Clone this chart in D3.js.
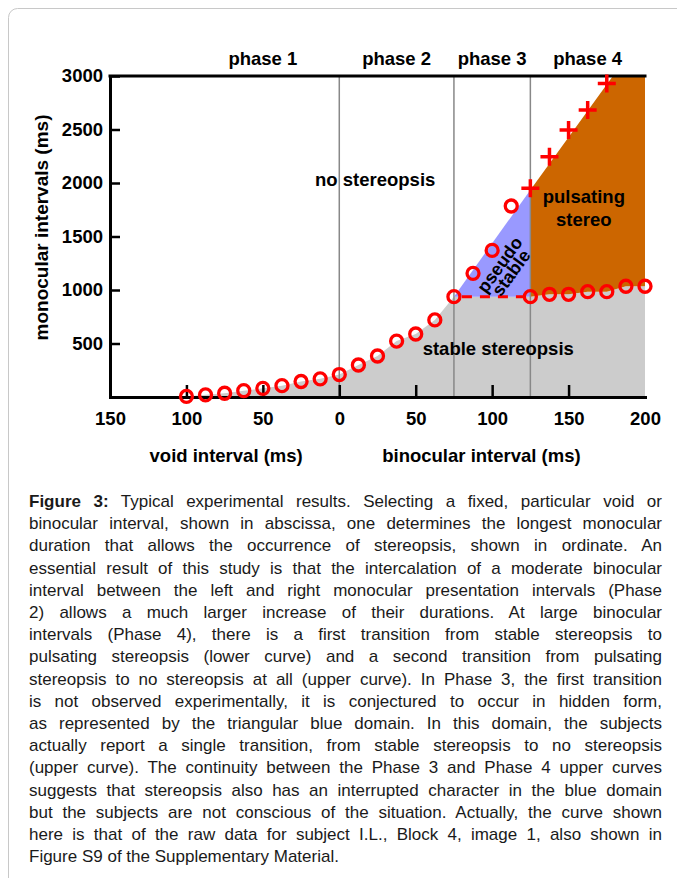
<!DOCTYPE html>
<html>
<head>
<meta charset="utf-8">
<script src="https://cdn.jsdelivr.net/npm/d3@7"></script>
<style>
  body { margin: 0; background: #fff; overflow: hidden; }
  svg text { font-family: "Liberation Sans", Arial, Helvetica, sans-serif; }
</style>
</head>
<body>
<svg id="fig" width="677" height="878"></svg>
<script>
// lower curve (void interval shown as negative x), circles
const lowerX = [-100, -87.5, -75, -62.5, -50, -37.5, -25, -12.5, 0, 12.5, 25, 37.5, 50, 62.5, 75,
  125, 137.5, 150, 162.5, 175, 187.5, 200];
const lowerY = [5, 20, 35, 59, 81, 106, 145, 170, 210, 299, 383, 523, 589, 720, 938,
  938, 960, 960, 984, 984, 1035, 1035];
// upper curve, phase 3 circles and phase 4 crosses
const upperCircleX = [87.5, 100, 112.5];
const upperCircleY = [1156, 1370, 1785];
const upperPlusX = [125, 137.5, 150, 162.5, 175];
const upperPlusY = [1950, 2246, 2495, 2682, 2931];
// fitted upper boundary of the blue / orange domains
const edgeX = [75, 125, 179];
const edgeY = [938, 1935, 3000];
const phaseBounds = [0, 75, 125];
const phaseNames = ['phase 1', 'phase 2', 'phase 3', 'phase 4'];
const phaseCenters = [-50, 37.5, 100, 162.5];
const xTicks = [-150, -100, -50, 0, 50, 100, 150, 200];
const yTicks = [500, 1000, 1500, 2000, 2500, 3000];

const captionLines = [
  'Typical experimental results. Selecting a fixed, particular void or',
  'binocular interval, shown in abscissa, one determines the longest monocular',
  'duration that allows the occurrence of stereopsis, shown in ordinate. An',
  'essential result of this study is that the intercalation of a moderate binocular',
  'interval between the left and right monocular presentation intervals (Phase',
  '2) allows a much larger increase of their durations. At large binocular',
  'intervals (Phase 4), there is a first transition from stable stereopsis to',
  'pulsating stereopsis (lower curve) and a second transition from pulsating',
  'stereopsis to no stereopsis at all (upper curve). In Phase 3, the first transition',
  'is not observed experimentally, it is conjectured to occur in hidden form,',
  'as represented by the triangular blue domain. In this domain, the subjects',
  'actually report a single transition, from stable stereopsis to no stereopsis',
  '(upper curve). The continuity between the Phase 3 and Phase 4 upper curves',
  'suggests that stereopsis also has an interrupted character in the blue domain',
  'but the subjects are not conscious of the situation. Actually, the curve shown',
  'here is that of the raw data for subject I.L., Block 4, image 1, also shown in',
  'Figure S9 of the Supplementary Material.'
];

const svg = d3.select('#fig');

// card border
svg.append('rect')
  .attr('x', 8.5).attr('y', 8.5)
  .attr('width', 720).attr('height', 900)
  .attr('rx', 9)
  .attr('fill', 'none')
  .attr('stroke', '#c8c8c8');

const x = d3.scaleLinear().domain([-150, 200]).range([110, 645]);
const y = d3.scaleLinear().domain([0, 3000]).range([397, 76]);

const lower = lowerX.map((d, i) => [d, lowerY[i]]);
const phase4Lower = lower.filter((d) => d[0] >= 125);

// stable stereopsis (gray)
svg.append('path')
  .datum(lower)
  .attr('fill', '#cccccc')
  .attr('d', d3.area().x((d) => x(d[0])).y0(y(0)).y1((d) => y(d[1])));

const poly = d3.line().x((d) => x(d[0])).y((d) => y(d[1]));

// pseudo stable (blue)
svg.append('path')
  .datum([[edgeX[0], edgeY[0]], [edgeX[1], edgeY[1]], [edgeX[1], edgeY[0]]])
  .attr('fill', '#9999ff')
  .attr('d', (d) => poly(d) + 'Z');

// pulsating stereo (orange)
const orange = [[edgeX[1], edgeY[1]], [edgeX[2], edgeY[2]], [200, 3000]]
  .concat(phase4Lower.slice().reverse());
svg.append('path')
  .datum(orange)
  .attr('fill', '#cc6600')
  .attr('d', (d) => poly(d) + 'Z');

// phase boundaries
svg.selectAll('.phase-line')
  .data(phaseBounds)
  .enter()
  .append('line')
  .attr('class', 'phase-line')
  .attr('x1', (d) => x(d)).attr('x2', (d) => x(d))
  .attr('y1', y(3000)).attr('y2', y(0))
  .attr('stroke', '#888')
  .attr('stroke-width', 1.5);

// axes
const yAxis = svg.append('g')
  .attr('transform', `translate(${x(-150)},0)`)
  .call(d3.axisLeft(y).tickValues(yTicks).tickSize(-10).tickSizeOuter(0).tickPadding(7)
    .tickFormat(d3.format('d')));

const xAxis = svg.append('g')
  .attr('transform', `translate(0,${y(0)})`)
  .call(d3.axisBottom(x).tickValues(xTicks).tickSize(-12).tickSizeOuter(0).tickPadding(15)
    .tickFormat((d) => Math.abs(d)));

xAxis.selectAll('.tick')
  .filter((d) => d === -150 || d === 200)
  .select('line')
  .remove();

[yAxis, xAxis].forEach((g) => {
  g.select('.domain').attr('stroke', '#000').attr('stroke-width', 3).attr('stroke-linecap', 'square');
  g.selectAll('.tick line').attr('stroke', '#000').attr('stroke-width', 2.5);
  g.selectAll('.tick text')
    .attr('fill', '#000')
    .style('font-size', '18.5px')
    .style('font-weight', 'bold');
});

// top frame line
svg.append('line')
  .attr('x1', x(-150)).attr('x2', x(200))
  .attr('y1', y(3000)).attr('y2', y(3000))
  .attr('stroke', '#000')
  .attr('stroke-width', 3)
  .attr('stroke-linecap', 'square');

// transition between phase 3 and phase 4 lower curve
svg.append('line')
  .attr('x1', x(edgeX[0])).attr('x2', x(edgeX[1]))
  .attr('y1', y(edgeY[0])).attr('y2', y(edgeY[0]))
  .attr('stroke', '#ff0000')
  .attr('stroke-width', 3)
  .attr('stroke-dasharray', '10,8')
  .attr('stroke-dashoffset', -8);

// markers
const circles = lower.concat(upperCircleX.map((d, i) => [d, upperCircleY[i]]));
svg.selectAll('.pt')
  .data(circles)
  .enter()
  .append('circle')
  .attr('class', 'pt')
  .attr('cx', (d) => x(d[0]))
  .attr('cy', (d) => y(d[1]))
  .attr('r', 6)
  .attr('fill', 'none')
  .attr('stroke', '#ff0000')
  .attr('stroke-width', 3.3);

svg.selectAll('.plus')
  .data(upperPlusX.map((d, i) => [d, upperPlusY[i]]))
  .enter()
  .append('path')
  .attr('class', 'plus')
  .attr('transform', (d) => `translate(${x(d[0])},${y(d[1])})`)
  .attr('d', 'M-9,0H9M0,-9V9')
  .attr('stroke', '#ff0000')
  .attr('stroke-width', 3.5);

// labels
const label = (txt, px, py, size) => svg.append('text')
  .attr('x', px).attr('y', py)
  .attr('text-anchor', 'middle')
  .style('font-size', (size || 18.5) + 'px')
  .style('font-weight', 'bold')
  .attr('fill', '#000')
  .text(txt);

svg.selectAll('.phase-name')
  .data(phaseNames)
  .enter()
  .append('text')
  .attr('class', 'phase-name')
  .attr('x', (d, i) => x(phaseCenters[i]))
  .attr('y', y(3000) - 11)
  .attr('text-anchor', 'middle')
  .style('font-size', '18.5px')
  .style('font-weight', 'bold')
  .text((d) => d);

label('no stereopsis', x(23.5), y(2000) + 3);
label('pulsating', x(160), y(1810));
label('stereo', x(160), y(1600));
label('stable stereopsis', x(104), y(392));

const ps = svg.append('g')
  .attr('transform', `translate(${x(108.5)},${y(1200)}) rotate(-54)`);
ps.append('text').attr('y', -0.5).attr('text-anchor', 'middle')
  .style('font-size', '18px').style('font-weight', 'bold').text('pseudo');
ps.append('text').attr('y', 13.5).attr('text-anchor', 'middle')
  .style('font-size', '18px').style('font-weight', 'bold').text('stable');

// axis titles
label('void interval (ms)', x(-74), 462);
label('binocular interval (ms)', x(93), 462);
svg.append('text')
  .attr('transform', `translate(48,${(y(0) + y(3000)) / 2 - 9}) rotate(-90)`)
  .attr('text-anchor', 'middle')
  .style('font-size', '19px')
  .style('font-weight', 'bold')
  .text('monocular intervals (ms)');

// caption, justified line by line
const cap = svg.append('g').attr('fill', '#1a1a1a').style('font-size', '17px');
const capLeft = 29;
const capWidth = 633;
captionLines.forEach((line, i) => {
  const t = cap.append('text').attr('x', capLeft).attr('y', 507 + i * 22.2);
  let spaces = (line.match(/ /g) || []).length;
  if (i === 0) {
    t.append('tspan').style('font-weight', 'bold').text('Figure 3:');
    t.append('tspan').text(' ' + line);
    spaces += 2;
  } else {
    t.text(line);
  }
  if (i < captionLines.length - 1) {
    const w = t.node().getComputedTextLength();
    t.style('word-spacing', ((capWidth - w) / spaces) + 'px');
  }
});
</script>
</body>
</html>
